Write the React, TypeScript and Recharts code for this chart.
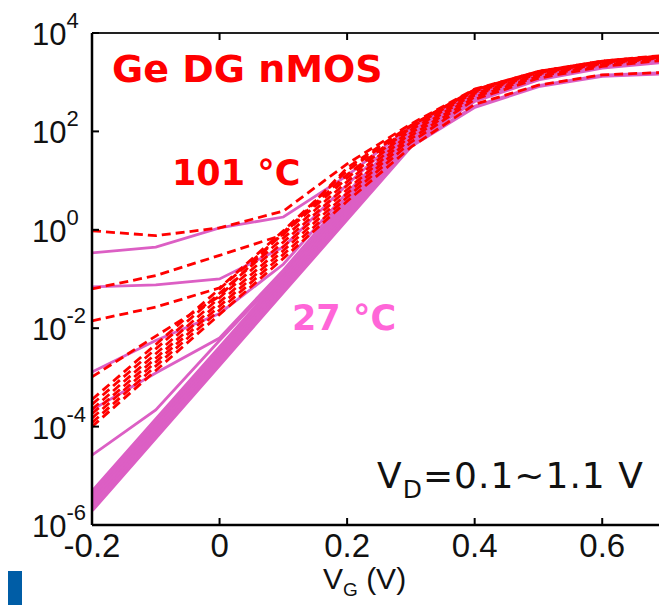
import { LineChart, Line, XAxis, YAxis } from "recharts";

// gate voltage (V)
const VG = [-0.2, -0.1, 0, 0.1, 0.2, 0.3, 0.4, 0.5, 0.6, 0.7];
const X_TICKS = [-0.2, 0, 0.2, 0.4, 0.6];
const Y_TICKS = [-6, -4, -2, 0, 2, 4];

// log10 of drain current, one array per V_D (0.1 ... 1.1 V)
// 101 °C (red dashed)
const hot01 = [-4.0, -2.86, -1.72, -0.58, 0.58, 1.68, 2.55, 2.94, 3.15, 3.2];
const hot02 = [-3.92, -2.77, -1.63, -0.5, 0.66, 1.78, 2.65, 3.08, 3.32, 3.45];
const hot03 = [-3.83, -2.69, -1.55, -0.42, 0.74, 1.85, 2.7, 3.12, 3.35, 3.48];
const hot04 = [-3.74, -2.61, -1.47, -0.34, 0.82, 1.91, 2.74, 3.15, 3.37, 3.5];
const hot05 = [-3.65, -2.52, -1.38, -0.25, 0.9, 1.97, 2.77, 3.17, 3.38, 3.51];
const hot06 = [-3.55, -2.42, -1.29, -0.17, 0.98, 2.03, 2.8, 3.19, 3.4, 3.52];
const hot07 = [-3.45, -2.33, -1.2, -0.08, 1.05, 2.08, 2.82, 3.2, 3.41, 3.53];
const hot08 = [-2.99, -2.16, -1.35, -0.05, 1.12, 2.1, 2.83, 3.21, 3.42, 3.53];
const hot09 = [-1.85, -1.57, -1.18, -0.02, 1.2, 2.11, 2.84, 3.21, 3.42, 3.54];
const hot10 = [-1.2, -0.93, -0.52, -0.1, 1.26, 2.12, 2.85, 3.22, 3.43, 3.54];
const hot11 = [-0.02, -0.12, 0.04, 0.38, 1.34, 2.15, 2.86, 3.22, 3.43, 3.55];

// 27 °C (pink solid)
const room01 = [-5.7, -4.22, -2.74, -1.26, 0.22, 1.7, 2.5, 2.92, 3.13, 3.18];
const room02 = [-5.63, -4.15, -2.67, -1.19, 0.29, 1.77, 2.62, 3.06, 3.3, 3.42];
const room03 = [-5.55, -4.08, -2.6, -1.12, 0.35, 1.83, 2.68, 3.1, 3.33, 3.45];
const room04 = [-5.48, -4.01, -2.54, -1.06, 0.41, 1.88, 2.72, 3.13, 3.35, 3.47];
const room05 = [-5.4, -3.93, -2.47, -1.0, 0.47, 1.94, 2.75, 3.15, 3.37, 3.48];
const room06 = [-5.33, -3.86, -2.4, -0.93, 0.53, 2.0, 2.78, 3.17, 3.38, 3.5];
const room07 = [-4.58, -3.66, -2.25, -0.88, 0.6, 2.03, 2.8, 3.18, 3.39, 3.51];
const room08 = [-3.66, -2.91, -2.2, -0.82, 0.68, 2.05, 2.81, 3.19, 3.4, 3.52];
const room09 = [-2.89, -2.25, -1.7, -0.7, 0.76, 2.07, 2.82, 3.2, 3.41, 3.52];
const room10 = [-1.16, -1.12, -1.0, -0.35, 0.92, 2.08, 2.83, 3.2, 3.41, 3.53];
const room11 = [-0.47, -0.35, 0.04, 0.26, 1.1, 2.1, 2.84, 3.21, 3.42, 3.53];

const HOT = [hot01, hot02, hot03, hot04, hot05, hot06, hot07, hot08, hot09, hot10, hot11];
const ROOM = [room01, room02, room03, room04, room05, room06, room07, room08, room09, room10, room11];

const data = VG.map((vg, i) => {
  const row: any = { vg };
  HOT.forEach((s, k) => (row["h" + k] = s[i]));
  ROOM.forEach((s, k) => (row["r" + k] = s[i]));
  return row;
});

const RED = "#ff0000";
const PINK = "#dc5fc4";
const TICK_FONT = "'Liberation Sans', Arial, Helvetica, sans-serif";

const BottomTick = (props: any) => {
  const { x, y, payload } = props;
  const v = payload.value;
  const label = v === 0 ? "0" : String(v);
  return (
    <g>
      <line x1={x} y1={y} x2={x} y2={y - 7} stroke="#000" strokeWidth={2} />
      <text x={x} y={y + 32} textAnchor="middle" fontSize={33} fontFamily={TICK_FONT} fill="#111">
        {label}
      </text>
    </g>
  );
};

const TopTick = (props: any) => {
  const { x, y } = props;
  return <line x1={x} y1={y} x2={x} y2={y + 7} stroke="#000" strokeWidth={2} />;
};

const LeftTick = (props: any) => {
  const { x, y, payload } = props;
  return (
    <g>
      <line x1={x} y1={y} x2={x + 7} y2={y} stroke="#000" strokeWidth={2} />
      <text x={x - 60} y={y + 12} fontSize={31} fontFamily={TICK_FONT} fill="#111">
        10
        <tspan dy={-17} fontSize={22}>
          {payload.value}
        </tspan>
      </text>
    </g>
  );
};

export default function App() {
  return (
    <div style={{ position: "absolute", left: 0, top: 0, width: 659, height: 605, overflow: "hidden", background: "#fff" }}>
      <LineChart width={680} height={605} data={data} margin={{ top: 32, right: 14, bottom: 0, left: 0 }}>
        <XAxis
          dataKey="vg"
          type="number"
          domain={[-0.2, 0.7]}
          ticks={X_TICKS}
          interval={0}
          height={80}
          tickSize={0}
          tickMargin={0}
          tick={<BottomTick />}
          axisLine={{ stroke: "#000", strokeWidth: 2.5 }}
          tickLine={false}
          allowDataOverflow
        />
        <XAxis
          xAxisId="top"
          orientation="top"
          dataKey="vg"
          type="number"
          domain={[-0.2, 0.7]}
          ticks={X_TICKS}
          interval={0}
          height={1}
          tickSize={0}
          tickMargin={0}
          tick={<TopTick />}
          axisLine={{ stroke: "#222", strokeWidth: 2 }}
          tickLine={false}
        />
        <YAxis
          type="number"
          domain={[-6, 4]}
          ticks={Y_TICKS}
          interval={0}
          width={92}
          tickSize={0}
          tickMargin={0}
          tick={<LeftTick />}
          axisLine={{ stroke: "#000", strokeWidth: 2.5 }}
          tickLine={false}
          allowDataOverflow
        />
        {ROOM.map((_, k) => (
          <Line
            key={"r" + k}
            dataKey={"r" + k}
            type="linear"
            stroke={PINK}
            strokeWidth={k < 6 ? 4 : 2.8}
            dot={false}
            isAnimationActive={false}
          />
        ))}
        {HOT.map((_, k) => (
          <Line
            key={"h" + k}
            dataKey={"h" + k}
            type="linear"
            stroke={RED}
            strokeWidth={2.8}
            strokeDasharray="9 5"
            dot={false}
            isAnimationActive={false}
          />
        ))}
      </LineChart>
      <svg width={659} height={605} style={{ position: "absolute", left: 0, top: 0, pointerEvents: "none" }}>
        <text x={112} y={82} fontSize={38} fontWeight="bold" fontFamily="'DejaVu Sans', Verdana, sans-serif" fill={RED}>
          Ge DG nMOS
        </text>
        <text x={172} y={185} fontSize={35} fontWeight="bold" fontFamily="'DejaVu Sans', Verdana, sans-serif" fill={RED}>
          101 °C
        </text>
        <text x={292} y={330} fontSize={35} fontWeight="bold" fontFamily="'DejaVu Sans', Verdana, sans-serif" fill="#ff66d8">
          27 °C
        </text>
        <text x={377} y={488} fontSize={36} letterSpacing={1} fontFamily="'DejaVu Sans', Verdana, sans-serif" fill="#111">
          V
          <tspan dy={10} fontSize={25}>D</tspan>
          <tspan dy={-10}>=0.1~1.1 V</tspan>
        </text>
        <text x={323} y={589} fontSize={30} fontFamily={TICK_FONT} fill="#111">
          V
          <tspan dy={7} fontSize={19}>G</tspan>
          <tspan dy={-7}> (V)</tspan>
        </text>
        <rect x={8} y={571} width={14} height={34} fill="#005da6" />
      </svg>
    </div>
  );
}
